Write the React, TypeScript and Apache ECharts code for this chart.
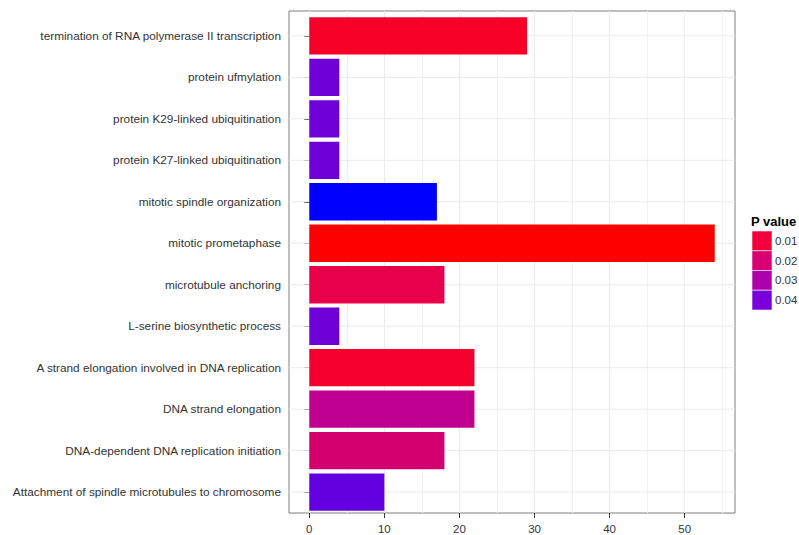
import React, { useEffect, useRef } from 'react';
import * as echarts from 'echarts';

const categories = [
  'termination of RNA polymerase II transcription',
  'protein ufmylation',
  'protein K29-linked ubiquitination',
  'protein K27-linked ubiquitination',
  'mitotic spindle organization',
  'mitotic prometaphase',
  'microtubule anchoring',
  'L-serine biosynthetic process',
  'A strand elongation involved in DNA replication',
  'DNA strand elongation',
  'DNA-dependent DNA replication initiation',
  'Attachment of spindle microtubules to chromosome',
];
const values = [29, 4, 4, 4, 17, 54, 18, 4, 22, 22, 18, 10];
const barColors = [
  '#F70028', '#7000D8', '#7000D8', '#7000D8', '#0000FF', '#FF0000',
  '#E8004A', '#7000D8', '#F4002E', '#C00090', '#D40070', '#6400E0',
];
const xTickValues = [0, 10, 20, 30, 40, 50];
const legendTitle = 'P value';
const legendLabels = ['0.01', '0.02', '0.03', '0.04'];
const legendColors = ['#F2003A', '#D80072', '#B000AB', '#7A00D9'];

const FONT = '"Liberation Sans", Arial, Helvetica, sans-serif';
const X_MIN = -2.7;
const X_MAX = 56.7;

export default function App() {
  const ref = useRef<HTMLDivElement>(null);
  useEffect(() => {
    const chart = echarts.init(ref.current!, null, { renderer: 'svg' });
    const keyH = 19.75;
    const option: any = {
      animation: false,
      backgroundColor: '#ffffff',
      grid: [
        { left: 289, right: 64, top: 11, bottom: 18, show: true, borderColor: '#7F7F7F', borderWidth: 1, backgroundColor: '#ffffff' },
        { left: 289, right: 64, top: 15.15, bottom: 22.15, show: false },
      ],
      xAxis: [
        {
          gridIndex: 0, type: 'value', min: X_MIN, max: X_MAX, splitNumber: 12, position: 'top', z: 0,
          axisLine: { show: false }, axisTick: { show: false }, axisLabel: { show: false },
          splitLine: { show: true, showMinLine: false, showMaxLine: false, lineStyle: { color: '#F2F2F2', width: 1 } },
        },
        {
          gridIndex: 0, type: 'value', min: X_MIN, max: X_MAX, position: 'bottom', z: 1,
          axisLine: { show: false },
          axisTick: { show: true, length: 5, lineStyle: { color: '#333333' }, customValues: xTickValues },
          axisLabel: {
            customValues: xTickValues, margin: 10, color: '#333333', fontSize: 11.5, fontFamily: FONT,
            formatter: (v: number) => (Math.abs(v % 10) < 1e-9 ? String(v) : ''),
          },
          splitLine: { show: true, showMinLine: false, showMaxLine: false, lineStyle: { color: '#EBEBEB', width: 1 } },
        },
        { gridIndex: 1, type: 'value', min: X_MIN, max: X_MAX, show: false },
      ],
      yAxis: [
        { gridIndex: 0, type: 'value', min: 0, max: 1, show: false },
        {
          gridIndex: 1, type: 'category', data: categories, inverse: true,
          axisLine: { show: false },
          axisTick: { show: true, alignWithLabel: true, length: 5, lineStyle: { color: '#333333' } },
          axisLabel: { color: '#333333', fontSize: 11.8, margin: 8, fontFamily: FONT },
          splitLine: { show: false },
        },
      ],
      series: [
        {
          type: 'custom', xAxisIndex: 2, yAxisIndex: 1, z: 1, silent: true,
          data: categories.map((_, i) => [0, i]),
          renderItem: (params: any, api: any) => {
            const y = api.coord([0, api.value(1)])[1];
            const cs = params.coordSys;
            return {
              type: 'line',
              shape: { x1: cs.x, y1: y, x2: cs.x + cs.width, y2: y },
              style: { stroke: '#EBEBEB', lineWidth: 1 },
            };
          },
        },
        {
          type: 'bar', xAxisIndex: 2, yAxisIndex: 1, z: 3, barCategoryGap: '10%',
          data: values.map((v, i) => ({ value: v, itemStyle: { color: barColors[i] } })),
        },
      ],
      graphic: [
        {
          type: 'text', x: 751, y: 221, z: 10,
          style: { text: legendTitle, font: `bold 13px ${FONT}`, fill: '#000000', verticalAlign: 'middle' },
        },
        ...legendLabels.map((_, i) => ({
          type: 'rect', z: 10,
          shape: { x: 752, y: 231 + i * keyH, width: 20, height: keyH },
          style: { fill: legendColors[i], stroke: '#F2F2F2', lineWidth: 0.6 },
        })),
        ...legendLabels.map((l, i) => ({
          type: 'text', z: 10, x: 775, y: 231 + i * keyH + keyH / 2,
          style: { text: l, font: `11.5px ${FONT}`, fill: '#333333', verticalAlign: 'middle' },
        })),
      ],
    };
    chart.setOption(option);
    return () => chart.dispose();
  }, []);
  return <div ref={ref} style={{ position: 'absolute', left: 0, top: 0, width: 799, height: 535 }} />;
}
